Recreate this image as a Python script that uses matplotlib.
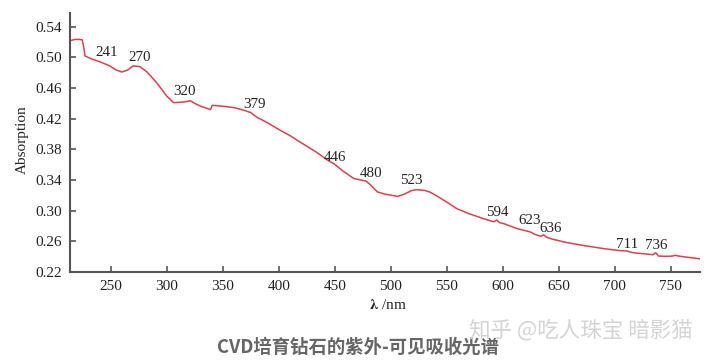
import matplotlib
matplotlib.use("Agg")
import matplotlib.pyplot as plt

plt.rcParams["mathtext.fontset"] = "stix"

# spectrum (nm, absorption)
wavelength = [214, 218, 222, 224.5, 226, 227, 232, 240, 249, 255, 260, 265, 270, 276,
              282, 291, 300, 306, 312, 316, 321, 325, 330, 335, 339, 340.5, 345, 352,
              360, 368, 375, 378, 381, 389, 400, 410, 419, 434, 443, 449, 458, 467,
              475, 478, 482, 488, 495, 503, 506, 512, 518, 523, 530, 535, 543, 550,
              559, 570, 583, 592, 594.5, 597, 601, 613, 620, 625, 628, 634, 636.5,
              639, 643, 655, 672, 690, 705, 711, 713, 717, 726, 734, 736.5, 739,
              745, 751, 754, 757, 765, 776]
absorption = [0.522, 0.5235, 0.5235, 0.523, 0.512, 0.502, 0.4985, 0.4945, 0.489,
              0.4835, 0.481, 0.4835, 0.489, 0.488, 0.4815, 0.467, 0.4495, 0.441,
              0.4415, 0.442, 0.4435, 0.440, 0.4365, 0.434, 0.432, 0.4375, 0.437,
              0.436, 0.4345, 0.4315, 0.428, 0.4245, 0.4215, 0.4155, 0.406, 0.398,
              0.3895, 0.376, 0.3665, 0.3615, 0.351, 0.342, 0.3395, 0.3385, 0.3335,
              0.3245, 0.3215, 0.3195, 0.3187, 0.3215, 0.326, 0.3275, 0.3265, 0.3243,
              0.3175, 0.3112, 0.3026, 0.296, 0.2895, 0.2855, 0.2878, 0.2845, 0.283,
              0.2765, 0.274, 0.272, 0.2695, 0.2665, 0.2685, 0.2655, 0.2634, 0.259,
              0.2546, 0.2505, 0.2478, 0.2475, 0.2462, 0.245, 0.2438, 0.2425, 0.2452,
              0.2408, 0.2405, 0.2407, 0.2418, 0.2408, 0.2392, 0.2372]

peak_labels = ["241", "270", "320", "379", "446", "480", "523", "594", "623", "636", "711", "736"]
label_x = [246, 276, 316, 378, 450, 482, 518, 595, 624, 643, 711, 737]
label_y = [0.5065, 0.500, 0.456, 0.4386, 0.3688, 0.349, 0.3396, 0.2974, 0.2866, 0.2763, 0.256, 0.2547]

x_ticks = [250, 300, 350, 400, 450, 500, 550, 600, 650, 700, 750]
y_ticks = [0.22, 0.26, 0.30, 0.34, 0.38, 0.42, 0.46, 0.50, 0.54]

serif = "Liberation Serif"
cjk = ["Noto Sans CJK SC", "DejaVu Sans"]

fig = plt.figure(figsize=(7.1, 3.6), dpi=100)
ax = fig.add_axes([70 / 710, 1 - 272 / 360, 630 / 710, 259 / 360])

ax.plot(wavelength, absorption, color="#d9414e", lw=1.1)
for t, x, y in zip(peak_labels, label_x, label_y):
    ax.text(x, y, t, ha="center", va="center", fontsize=10.8, family=serif, color="#222222")

ax.set_xlim(213.6, 776)
ax.set_ylim(0.22, 0.558)
ax.set_xticks(x_ticks)
ax.set_yticks(y_ticks)
ax.set_yticklabels([f"{v:.2f}" for v in y_ticks])
for lab in ax.get_xticklabels() + ax.get_yticklabels():
    lab.set_family(serif)
    lab.set_fontsize(11)
    lab.set_color("#222222")
ax.tick_params(direction="in", length=4, width=1.2, color="#555555", pad=6)

for side in ["top", "right"]:
    ax.spines[side].set_visible(False)
for side in ["left", "bottom"]:
    ax.spines[side].set_color("#555555")
    ax.spines[side].set_linewidth(1.5)

fig.text(22 / 710, 1 - 140 / 360, "Absorption", rotation=90, ha="center", va="center",
         fontsize=11, family=serif, color="#222222")
fig.text(388 / 710, 1 - 305 / 360, r"$\boldsymbol{\lambda}$ /nm", ha="center", va="center",
         fontsize=11, family=serif, color="#222222")

fig.text(358 / 710, 1 - 347 / 360, "CVD培育钻石的紫外-可见吸收光谱", ha="center", va="center",
         fontsize=13.2, fontweight="bold", family=cjk, color="#666666")
fig.text(581 / 710, 1 - 331 / 360, "知乎 @吃人珠宝 暗影猫", ha="center", va="center",
         fontsize=15.5, family=cjk, color="#d4d4d4")

fig.savefig("out.png", dpi=100)
